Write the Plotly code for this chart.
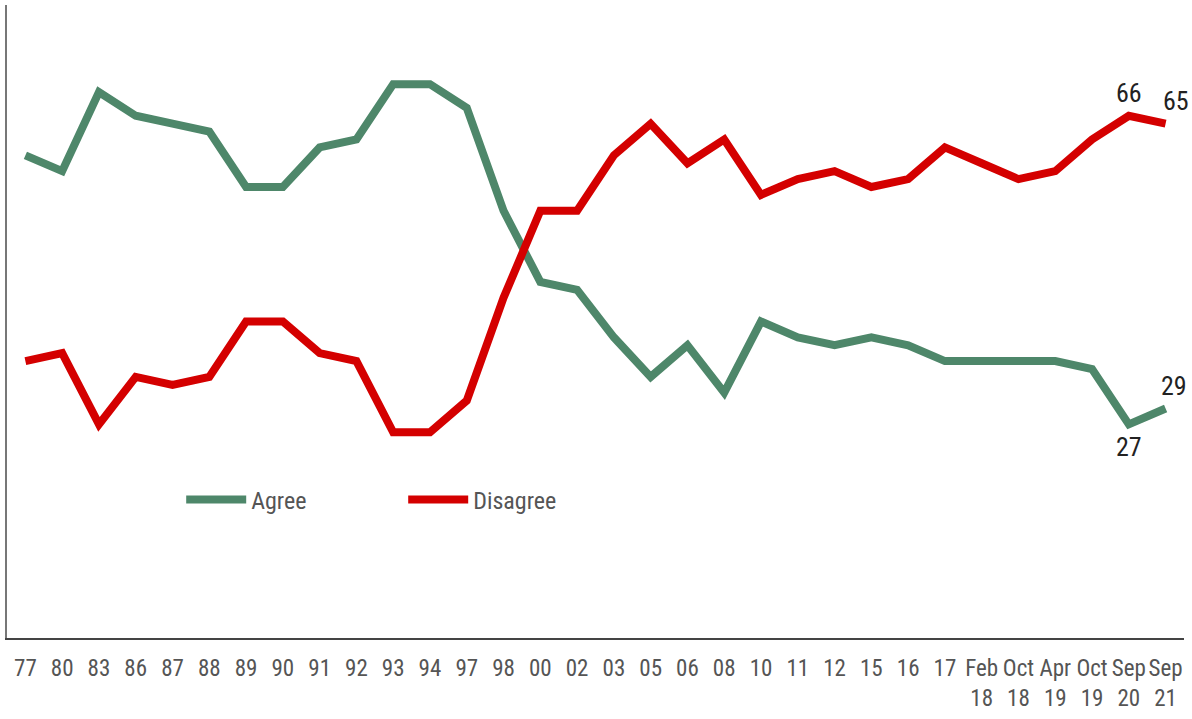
import plotly.graph_objects as go

categories = ["77", "80", "83", "86", "87", "88", "89", "90", "91", "92", "93", "94",
              "97", "98", "00", "02", "03", "05", "06", "08", "10", "11", "12", "15",
              "16", "17", "Feb<br>18", "Oct<br>18", "Apr<br>19", "Oct<br>19",
              "Sep<br>20", "Sep<br>21"]

agree = [61, 59, 69, 66, 65, 64, 57, 57, 62, 63, 70, 70,
         67, 54, 45, 44, 38, 33, 37, 31, 40, 38, 37, 38,
         37, 35, 35, 35, 35, 34, 27, 29]

disagree = [35, 36, 27, 33, 32, 33, 40, 40, 36, 35, 26, 26,
            30, 43, 54, 54, 61, 65, 60, 63, 56, 58, 59, 57,
            58, 62, 60, 58, 59, 63, 66, 65]

GREEN = "#4E876A"
RED = "#D40000"
FONT = "Roboto Condensed, Noto Sans ExtraCondensed, Noto Sans Condensed, Liberation Sans Narrow, DejaVu Sans Condensed, sans-serif"

fig = go.Figure()
fig.add_trace(go.Scatter(x=categories, y=agree, mode="lines", name="Agree",
                         line=dict(color=GREEN, width=8)))
fig.add_trace(go.Scatter(x=categories, y=disagree, mode="lines", name="Disagree",
                         line=dict(color=RED, width=8)))

# value labels: (series, index, xshift, yshift, yanchor)
label_specs = [
    (agree, 0, 3, 6, "bottom"),
    (disagree, 0, 2, 6, "bottom"),
    (disagree, 30, 0, 6, "bottom"),
    (disagree, 31, 10, 6, "bottom"),
    (agree, 31, 8, 6, "bottom"),
    (agree, 30, 0, -6, "top"),
]
for series, i, xs, ys, ya in label_specs:
    fig.add_annotation(x=categories[i], y=series[i], text=str(series[i]),
                       showarrow=False, xshift=xs, yshift=ys, yanchor=ya,
                       font=dict(family=FONT, size=26, color="#222222"))

fig.update_layout(
    width=1192, height=719,
    margin=dict(l=7, r=8, t=5, b=81, autoexpand=False),
    paper_bgcolor="white", plot_bgcolor="white",
    showlegend=True,
    legend=dict(orientation="h", x=0.148, y=0.218, xanchor="left", yanchor="middle",
                entrywidth=147, entrywidthmode="pixels", itemwidth=60,
                font=dict(family=FONT, size=24, color="#555555"),
                bgcolor="rgba(0,0,0,0)"),
    font=dict(family=FONT),
)
fig.update_xaxes(type="category", range=[-0.5, 31.5], showgrid=False, zeroline=False,
                 showline=True, linecolor="#444444", linewidth=2, automargin=False,
                 ticks="", tickangle=0, ticklabelstandoff=8,
                 tickfont=dict(family=FONT, size=23, color="#555555"))
fig.update_yaxes(range=[0, 80], showgrid=False, zeroline=False, automargin=False,
                 showline=True, linecolor="#777777", linewidth=2,
                 showticklabels=False, ticks="")

fig.write_html("out.html", config={"displayModeBar": False},
               post_script="document.body.style.margin='0';document.body.style.overflow='hidden';")
